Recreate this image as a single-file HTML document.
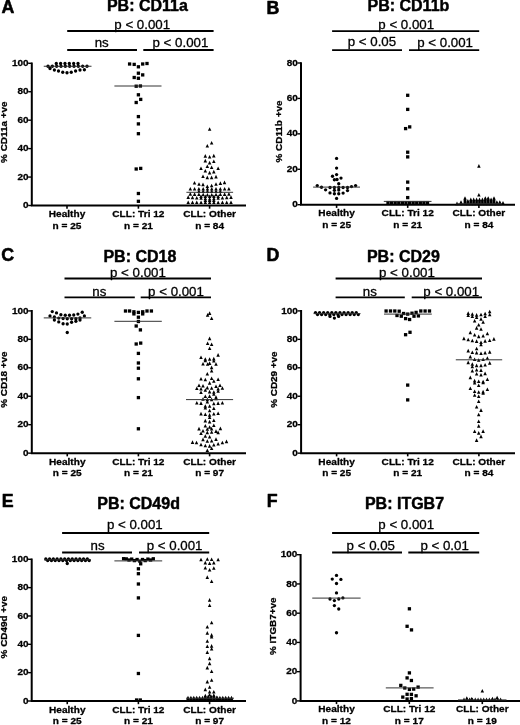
<!DOCTYPE html>
<html lang="en">
<head>
<meta charset="utf-8">
<title>Integrin expression in CLL</title>
<style>
html,body{margin:0;padding:0;background:#fff;}
body{width:520px;height:725px;overflow:hidden;}
svg{display:block;}
svg text{font-family:"Liberation Sans", Arial, sans-serif;fill:#000;stroke:#000;stroke-width:0.3px;stroke-linejoin:round;}
</style>
</head>
<body>
<svg width="520" height="725" viewBox="0 0 520 725">
<rect width="520" height="725" fill="#fff"/>
<g>
<text x="1.5" y="13.4" font-size="17.8" font-weight="bold" style="stroke-width:.55px">A</text>
<text x="147.4" y="11.4" font-size="16" font-weight="bold" text-anchor="middle" style="stroke-width:.45px">PB: CD11a</text>
<path d="M67.2 31H213.6" stroke="#000" stroke-width="1.8" fill="none"/>
<text transform="translate(142.2 29) scale(1 .97)" font-size="13.3" text-anchor="middle">p &lt; 0.001</text>
<path d="M67.2 50H137" stroke="#000" stroke-width="1.8" fill="none"/>
<text transform="translate(101.7 47) scale(1 .97)" font-size="13.3" text-anchor="middle">ns</text>
<path d="M143.3 50H213.6" stroke="#000" stroke-width="1.8" fill="none"/>
<text transform="translate(180.4 47) scale(1 .97)" font-size="13.3" text-anchor="middle">p &lt; 0.001</text>
<path d="M31.8 62.5V205.5H246" stroke="#000" stroke-width="2" fill="none" stroke-linejoin="miter"/>
<path d="M28.2 205.5H31.8" stroke="#000" stroke-width="1.4"/>
<text transform="translate(28.6 208.1) scale(1 .9)" font-size="10" font-weight="bold" text-anchor="end">0</text>
<path d="M28.2 177.06H31.8" stroke="#000" stroke-width="1.4"/>
<text transform="translate(28.6 179.66) scale(1 .9)" font-size="10" font-weight="bold" text-anchor="end">20</text>
<path d="M28.2 148.62H31.8" stroke="#000" stroke-width="1.4"/>
<text transform="translate(28.6 151.22) scale(1 .9)" font-size="10" font-weight="bold" text-anchor="end">40</text>
<path d="M28.2 120.18H31.8" stroke="#000" stroke-width="1.4"/>
<text transform="translate(28.6 122.78) scale(1 .9)" font-size="10" font-weight="bold" text-anchor="end">60</text>
<path d="M28.2 91.74H31.8" stroke="#000" stroke-width="1.4"/>
<text transform="translate(28.6 94.34) scale(1 .9)" font-size="10" font-weight="bold" text-anchor="end">80</text>
<path d="M28.2 63.3H31.8" stroke="#000" stroke-width="1.4"/>
<text transform="translate(28.6 65.9) scale(1 .9)" font-size="10" font-weight="bold" text-anchor="end">100</text>
<text transform="translate(7 132.25) rotate(-90) scale(1 .92)" font-size="9.9" font-weight="bold" text-anchor="middle">% CD11a +ve</text>
<path d="M67 205.5V208.7" stroke="#000" stroke-width="1.6"/>
<text transform="translate(67 217) scale(1 .94)" font-size="10.1" font-weight="bold" text-anchor="middle">Healthy</text>
<text transform="translate(67 228.7) scale(1 .94)" font-size="10.1" font-weight="bold" text-anchor="middle">n = 25</text>
<g fill="#000"><circle cx="56.3" cy="63.5" r="1.65"/><circle cx="60.64" cy="63.5" r="1.65"/><circle cx="64.98" cy="63.5" r="1.65"/><circle cx="69.32" cy="63.5" r="1.65"/><circle cx="73.66" cy="63.5" r="1.65"/><circle cx="78" cy="63.5" r="1.65"/><circle cx="48" cy="66.25" r="1.65"/><circle cx="52.33" cy="66.25" r="1.65"/><circle cx="56.67" cy="66.25" r="1.65"/><circle cx="61" cy="66.25" r="1.65"/><circle cx="65.33" cy="66.25" r="1.65"/><circle cx="69.67" cy="66.25" r="1.65"/><circle cx="74" cy="66.25" r="1.65"/><circle cx="78.33" cy="66.25" r="1.65"/><circle cx="82.67" cy="66.25" r="1.65"/><circle cx="87" cy="66.25" r="1.65"/><circle cx="50" cy="68.5" r="1.65"/><circle cx="54.4" cy="70" r="1.65"/><circle cx="58.5" cy="71" r="1.65"/><circle cx="62.75" cy="72.25" r="1.65"/><circle cx="67" cy="72.75" r="1.65"/><circle cx="71.25" cy="72.25" r="1.65"/><circle cx="75.6" cy="71" r="1.65"/><circle cx="80" cy="70" r="1.65"/><circle cx="84.4" cy="69.75" r="1.65"/></g>
<path d="M43.75 66.25H91.5" stroke="#333" stroke-width="1"/>
<path d="M138.4 205.5V208.7" stroke="#000" stroke-width="1.6"/>
<text transform="translate(138.4 217) scale(1 .94)" font-size="10.1" font-weight="bold" text-anchor="middle">CLL: Tri 12</text>
<text transform="translate(138.4 228.7) scale(1 .94)" font-size="10.1" font-weight="bold" text-anchor="middle">n = 21</text>
<g fill="#000"><rect x="127.95" y="62.35" width="3.3" height="3.3"/><rect x="132.55" y="62.75" width="3.3" height="3.3"/><rect x="136.75" y="65.15" width="3.3" height="3.3"/><rect x="141.05" y="62.35" width="3.3" height="3.3"/><rect x="145.35" y="61.85" width="3.3" height="3.3"/><rect x="136.75" y="71.55" width="3.3" height="3.3"/><rect x="141.05" y="73.25" width="3.3" height="3.3"/><rect x="132.55" y="75.85" width="3.3" height="3.3"/><rect x="136.75" y="76.65" width="3.3" height="3.3"/><rect x="134.55" y="84.55" width="3.3" height="3.3"/><rect x="138.75" y="84.35" width="3.3" height="3.3"/><rect x="136.75" y="93.15" width="3.3" height="3.3"/><rect x="139.05" y="97.75" width="3.3" height="3.3"/><rect x="134.55" y="100.85" width="3.3" height="3.3"/><rect x="136.75" y="114.95" width="3.3" height="3.3"/><rect x="136.75" y="122.25" width="3.3" height="3.3"/><rect x="136.75" y="132.05" width="3.3" height="3.3"/><rect x="134.55" y="167.35" width="3.3" height="3.3"/><rect x="139.05" y="166.75" width="3.3" height="3.3"/><rect x="136.75" y="191.85" width="3.3" height="3.3"/><rect x="136.75" y="199.65" width="3.3" height="3.3"/></g>
<path d="M114.4 86H161.5" stroke="#333" stroke-width="1"/>
<path d="M209.6 205.5V208.7" stroke="#000" stroke-width="1.6"/>
<text transform="translate(209.6 217) scale(1 .94)" font-size="10.1" font-weight="bold" text-anchor="middle">CLL: Other</text>
<text transform="translate(209.6 228.7) scale(1 .94)" font-size="10.1" font-weight="bold" text-anchor="middle">n = 84</text>
<g fill="#000"><path d="M209.6 127.2l1.75 3.6h-3.5z"/><path d="M211.6 140.9l1.75 3.6h-3.5z"/><path d="M207.3 144l1.75 3.6h-3.5z"/><path d="M205.3 154.1l1.75 3.6h-3.5z"/><path d="M209.6 155l1.75 3.6h-3.5z"/><path d="M213.8 153.8l1.75 3.6h-3.5z"/><path d="M205.3 158.8l1.75 3.6h-3.5z"/><path d="M209.6 160.8l1.75 3.6h-3.5z"/><path d="M213.8 159.5l1.75 3.6h-3.5z"/><path d="M201 166.5l1.75 3.6h-3.5z"/><path d="M207.3 164.4l1.75 3.6h-3.5z"/><path d="M211.6 165.4l1.75 3.6h-3.5z"/><path d="M218.1 166.5l1.75 3.6h-3.5z"/><path d="M205.3 168.9l1.75 3.6h-3.5z"/><path d="M209.6 170.8l1.75 3.6h-3.5z"/><path d="M213.8 169.8l1.75 3.6h-3.5z"/><path d="M203 174.5l1.75 3.6h-3.5z"/><path d="M207.3 175.6l1.75 3.6h-3.5z"/><path d="M211.6 175.6l1.75 3.6h-3.5z"/><path d="M216 174.8l1.75 3.6h-3.5z"/><path d="M194.5 180.9l1.75 3.6h-3.5z"/><path d="M199 182.2l1.75 3.6h-3.5z"/><path d="M203 182.6l1.75 3.6h-3.5z"/><path d="M207.3 184.4l1.75 3.6h-3.5z"/><path d="M211.6 183.7l1.75 3.6h-3.5z"/><path d="M216 182.2l1.75 3.6h-3.5z"/><path d="M220.4 181.3l1.75 3.6h-3.5z"/><path d="M224.5 180.6l1.75 3.6h-3.5z"/><path d="M190.3 186.9l1.75 3.6h-3.5z"/><path d="M194.59 186.9l1.75 3.6h-3.5z"/><path d="M198.88 186.9l1.75 3.6h-3.5z"/><path d="M203.17 186.9l1.75 3.6h-3.5z"/><path d="M207.46 186.9l1.75 3.6h-3.5z"/><path d="M211.74 186.9l1.75 3.6h-3.5z"/><path d="M216.03 186.9l1.75 3.6h-3.5z"/><path d="M220.32 186.9l1.75 3.6h-3.5z"/><path d="M224.61 186.9l1.75 3.6h-3.5z"/><path d="M228.9 186.9l1.75 3.6h-3.5z"/><path d="M198.9 189.3l1.75 3.6h-3.5z"/><path d="M203.18 189.3l1.75 3.6h-3.5z"/><path d="M207.46 189.3l1.75 3.6h-3.5z"/><path d="M211.74 189.3l1.75 3.6h-3.5z"/><path d="M216.02 189.3l1.75 3.6h-3.5z"/><path d="M220.3 189.3l1.75 3.6h-3.5z"/><path d="M190.3 192.1l1.75 3.6h-3.5z"/><path d="M194.59 192.3l1.75 3.6h-3.5z"/><path d="M198.88 192.5l1.75 3.6h-3.5z"/><path d="M203.17 192.7l1.75 3.6h-3.5z"/><path d="M207.46 192.9l1.75 3.6h-3.5z"/><path d="M211.74 192.9l1.75 3.6h-3.5z"/><path d="M216.03 192.7l1.75 3.6h-3.5z"/><path d="M220.32 192.5l1.75 3.6h-3.5z"/><path d="M224.61 192.3l1.75 3.6h-3.5z"/><path d="M228.9 192.1l1.75 3.6h-3.5z"/><path d="M201 194.5l1.75 3.6h-3.5z"/><path d="M205.3 194.5l1.75 3.6h-3.5z"/><path d="M209.6 194.5l1.75 3.6h-3.5z"/><path d="M213.9 194.5l1.75 3.6h-3.5z"/><path d="M218.2 194.5l1.75 3.6h-3.5z"/><path d="M188.2 195.3l1.75 3.6h-3.5z"/><path d="M192.48 195.62l1.75 3.6h-3.5z"/><path d="M196.76 195.94l1.75 3.6h-3.5z"/><path d="M201.04 196.26l1.75 3.6h-3.5z"/><path d="M205.32 196.58l1.75 3.6h-3.5z"/><path d="M209.6 196.9l1.75 3.6h-3.5z"/><path d="M213.88 196.58l1.75 3.6h-3.5z"/><path d="M218.16 196.26l1.75 3.6h-3.5z"/><path d="M222.44 195.94l1.75 3.6h-3.5z"/><path d="M226.72 195.62l1.75 3.6h-3.5z"/><path d="M231 195.3l1.75 3.6h-3.5z"/><path d="M205.4 198.4l1.75 3.6h-3.5z"/><path d="M209.6 198.4l1.75 3.6h-3.5z"/><path d="M213.8 198.4l1.75 3.6h-3.5z"/><path d="M188.2 200.4l1.75 3.6h-3.5z"/><path d="M192.48 200.4l1.75 3.6h-3.5z"/><path d="M196.76 200.4l1.75 3.6h-3.5z"/><path d="M201.04 200.4l1.75 3.6h-3.5z"/><path d="M205.32 200.4l1.75 3.6h-3.5z"/><path d="M209.6 200.4l1.75 3.6h-3.5z"/><path d="M213.88 200.4l1.75 3.6h-3.5z"/><path d="M218.16 200.4l1.75 3.6h-3.5z"/><path d="M222.44 200.4l1.75 3.6h-3.5z"/><path d="M226.72 200.4l1.75 3.6h-3.5z"/><path d="M231 200.4l1.75 3.6h-3.5z"/></g>
<path d="M186.4 192.3H233.1" stroke="#333" stroke-width="1"/>
</g>
<g>
<text x="266.6" y="13.5" font-size="17.8" font-weight="bold" style="stroke-width:.55px">B</text>
<text x="408.4" y="11.4" font-size="16" font-weight="bold" text-anchor="middle" style="stroke-width:.45px">PB: CD11b</text>
<path d="M332.1 31.2H479.2" stroke="#000" stroke-width="1.8" fill="none"/>
<text transform="translate(406.2 29.1) scale(1 .97)" font-size="13.3" text-anchor="middle">p &lt; 0.001</text>
<path d="M332.1 50.1H402" stroke="#000" stroke-width="1.8" fill="none"/>
<text transform="translate(371.9 46.4) scale(1 .97)" font-size="13.3" text-anchor="middle">p &lt; 0.05</text>
<path d="M409 50.1H479.2" stroke="#000" stroke-width="1.8" fill="none"/>
<text transform="translate(445.1 47) scale(1 .97)" font-size="13.3" text-anchor="middle">p &lt; 0.001</text>
<path d="M301 62.2V204.7H515" stroke="#000" stroke-width="2" fill="none" stroke-linejoin="miter"/>
<path d="M297.4 204.7H301" stroke="#000" stroke-width="1.4"/>
<text transform="translate(297.8 207.3) scale(1 .9)" font-size="10" font-weight="bold" text-anchor="end">0</text>
<path d="M297.4 169.27H301" stroke="#000" stroke-width="1.4"/>
<text transform="translate(297.8 171.87) scale(1 .9)" font-size="10" font-weight="bold" text-anchor="end">20</text>
<path d="M297.4 133.85H301" stroke="#000" stroke-width="1.4"/>
<text transform="translate(297.8 136.45) scale(1 .9)" font-size="10" font-weight="bold" text-anchor="end">40</text>
<path d="M297.4 98.42H301" stroke="#000" stroke-width="1.4"/>
<text transform="translate(297.8 101.02) scale(1 .9)" font-size="10" font-weight="bold" text-anchor="end">60</text>
<path d="M297.4 63H301" stroke="#000" stroke-width="1.4"/>
<text transform="translate(297.8 65.6) scale(1 .9)" font-size="10" font-weight="bold" text-anchor="end">80</text>
<text transform="translate(282.3 131.5) rotate(-90) scale(1 .92)" font-size="9.9" font-weight="bold" text-anchor="middle">% CD11b +ve</text>
<path d="M336.6 204.7V207.9" stroke="#000" stroke-width="1.6"/>
<text transform="translate(336.6 216.2) scale(1 .94)" font-size="10.1" font-weight="bold" text-anchor="middle">Healthy</text>
<text transform="translate(336.6 227.9) scale(1 .94)" font-size="10.1" font-weight="bold" text-anchor="middle">n = 25</text>
<g fill="#000"><circle cx="336.6" cy="158.4" r="1.65"/><circle cx="336.6" cy="168.1" r="1.65"/><circle cx="336.6" cy="174.6" r="1.65"/><circle cx="332.5" cy="176.25" r="1.65"/><circle cx="341" cy="178.1" r="1.65"/><circle cx="334.4" cy="179.75" r="1.65"/><circle cx="337" cy="179.5" r="1.65"/><circle cx="338.75" cy="183.75" r="1.65"/><circle cx="317.25" cy="185.6" r="1.65"/><circle cx="355.6" cy="185.6" r="1.65"/><circle cx="321.5" cy="187.25" r="1.65"/><circle cx="351.5" cy="186.6" r="1.65"/><circle cx="330" cy="187.5" r="1.65"/><circle cx="334.4" cy="187.5" r="1.65"/><circle cx="338.75" cy="187.5" r="1.65"/><circle cx="343.1" cy="187.5" r="1.65"/><circle cx="347.5" cy="187.5" r="1.65"/><circle cx="325.6" cy="189.8" r="1.65"/><circle cx="334.4" cy="190.3" r="1.65"/><circle cx="338.75" cy="190" r="1.65"/><circle cx="347.5" cy="190.6" r="1.65"/><circle cx="330" cy="192.9" r="1.65"/><circle cx="334.4" cy="193.75" r="1.65"/><circle cx="338.75" cy="193.75" r="1.65"/><circle cx="343.1" cy="193.1" r="1.65"/><circle cx="336.6" cy="198.4" r="1.65"/></g>
<path d="M313.1 187.1H360" stroke="#333" stroke-width="1"/>
<path d="M407.7 204.7V207.9" stroke="#000" stroke-width="1.6"/>
<text transform="translate(407.7 216.2) scale(1 .94)" font-size="10.1" font-weight="bold" text-anchor="middle">CLL: Tri 12</text>
<text transform="translate(407.7 227.9) scale(1 .94)" font-size="10.1" font-weight="bold" text-anchor="middle">n = 21</text>
<g fill="#000"><rect x="406.05" y="93.65" width="3.3" height="3.3"/><rect x="406.05" y="107.75" width="3.3" height="3.3"/><rect x="403.95" y="126.95" width="3.3" height="3.3"/><rect x="408.05" y="125.25" width="3.3" height="3.3"/><rect x="406.05" y="150.55" width="3.3" height="3.3"/><rect x="406.05" y="155.25" width="3.3" height="3.3"/><rect x="406.05" y="180.45" width="3.3" height="3.3"/><rect x="406.05" y="187.15" width="3.3" height="3.3"/><rect x="406.05" y="195.95" width="3.3" height="3.3"/><rect x="386.35" y="200.95" width="3.3" height="3.3"/><rect x="389.94" y="200.95" width="3.3" height="3.3"/><rect x="393.53" y="200.95" width="3.3" height="3.3"/><rect x="397.12" y="200.95" width="3.3" height="3.3"/><rect x="400.71" y="200.95" width="3.3" height="3.3"/><rect x="404.3" y="200.95" width="3.3" height="3.3"/><rect x="407.9" y="200.95" width="3.3" height="3.3"/><rect x="411.49" y="200.95" width="3.3" height="3.3"/><rect x="415.08" y="200.95" width="3.3" height="3.3"/><rect x="418.67" y="200.95" width="3.3" height="3.3"/><rect x="422.26" y="200.95" width="3.3" height="3.3"/><rect x="425.85" y="200.95" width="3.3" height="3.3"/></g>
<path d="M383.8 201.4H431.5" stroke="#333" stroke-width="1"/>
<path d="M478.9 204.7V207.9" stroke="#000" stroke-width="1.6"/>
<text transform="translate(478.9 216.2) scale(1 .94)" font-size="10.1" font-weight="bold" text-anchor="middle">CLL: Other</text>
<text transform="translate(478.9 227.9) scale(1 .94)" font-size="10.1" font-weight="bold" text-anchor="middle">n = 84</text>
<g fill="#000"><path d="M478.9 164.1l1.75 3.6h-3.5z"/><path d="M478.9 193l1.75 3.6h-3.5z"/><path d="M457 201.6l1.75 3.6h-3.5z"/><path d="M461 201.6l1.75 3.6h-3.5z"/><path d="M461 200.25l1.75 3.6h-3.5z"/><path d="M465 201.6l1.75 3.6h-3.5z"/><path d="M465 200.25l1.75 3.6h-3.5z"/><path d="M465 198.9l1.75 3.6h-3.5z"/><path d="M465 197.55l1.75 3.6h-3.5z"/><path d="M465 196.2l1.75 3.6h-3.5z"/><path d="M467.9 201.6l1.75 3.6h-3.5z"/><path d="M467.9 200.25l1.75 3.6h-3.5z"/><path d="M467.9 198.9l1.75 3.6h-3.5z"/><path d="M470.8 201.6l1.75 3.6h-3.5z"/><path d="M470.8 200.25l1.75 3.6h-3.5z"/><path d="M470.8 198.9l1.75 3.6h-3.5z"/><path d="M470.8 197.55l1.75 3.6h-3.5z"/><path d="M473.7 201.6l1.75 3.6h-3.5z"/><path d="M473.7 200.25l1.75 3.6h-3.5z"/><path d="M473.7 198.9l1.75 3.6h-3.5z"/><path d="M473.7 197.55l1.75 3.6h-3.5z"/><path d="M476.6 201.6l1.75 3.6h-3.5z"/><path d="M476.6 200.25l1.75 3.6h-3.5z"/><path d="M476.6 198.9l1.75 3.6h-3.5z"/><path d="M476.6 197.55l1.75 3.6h-3.5z"/><path d="M479.5 201.6l1.75 3.6h-3.5z"/><path d="M479.5 200.25l1.75 3.6h-3.5z"/><path d="M479.5 198.9l1.75 3.6h-3.5z"/><path d="M479.5 197.55l1.75 3.6h-3.5z"/><path d="M482.4 201.6l1.75 3.6h-3.5z"/><path d="M482.4 200.25l1.75 3.6h-3.5z"/><path d="M482.4 198.9l1.75 3.6h-3.5z"/><path d="M482.4 197.55l1.75 3.6h-3.5z"/><path d="M485.3 201.6l1.75 3.6h-3.5z"/><path d="M485.3 200.25l1.75 3.6h-3.5z"/><path d="M485.3 198.9l1.75 3.6h-3.5z"/><path d="M485.3 197.55l1.75 3.6h-3.5z"/><path d="M485.3 196.2l1.75 3.6h-3.5z"/><path d="M488.2 201.6l1.75 3.6h-3.5z"/><path d="M488.2 200.25l1.75 3.6h-3.5z"/><path d="M488.2 198.9l1.75 3.6h-3.5z"/><path d="M488.2 197.55l1.75 3.6h-3.5z"/><path d="M488.2 196.2l1.75 3.6h-3.5z"/><path d="M491.1 201.6l1.75 3.6h-3.5z"/><path d="M491.1 200.25l1.75 3.6h-3.5z"/><path d="M491.1 198.9l1.75 3.6h-3.5z"/><path d="M491.1 197.55l1.75 3.6h-3.5z"/><path d="M494 201.6l1.75 3.6h-3.5z"/><path d="M494 200.25l1.75 3.6h-3.5z"/><path d="M494 198.9l1.75 3.6h-3.5z"/><path d="M494 197.55l1.75 3.6h-3.5z"/><path d="M494 196.2l1.75 3.6h-3.5z"/><path d="M496.9 201.6l1.75 3.6h-3.5z"/><path d="M496.9 200.25l1.75 3.6h-3.5z"/><path d="M499.8 201.6l1.75 3.6h-3.5z"/><path d="M499.8 200.25l1.75 3.6h-3.5z"/><path d="M503 201l1.75 3.6h-3.5z"/></g>
<path d="M456 203.8H502" stroke="#333" stroke-width="1"/>
</g>
<g>
<text x="1.3" y="261.2" font-size="17.8" font-weight="bold" style="stroke-width:.55px">C</text>
<text x="139.9" y="261.5" font-size="16" font-weight="bold" text-anchor="middle" style="stroke-width:.45px">PB: CD18</text>
<path d="M64.5 278.5H211" stroke="#000" stroke-width="1.8" fill="none"/>
<text transform="translate(137.9 276.6) scale(1 .97)" font-size="13.3" text-anchor="middle">p &lt; 0.001</text>
<path d="M64.5 297.4H134.8" stroke="#000" stroke-width="1.8" fill="none"/>
<text transform="translate(99.3 296.1) scale(1 .97)" font-size="13.3" text-anchor="middle">ns</text>
<path d="M140.7 297.4H211" stroke="#000" stroke-width="1.8" fill="none"/>
<text transform="translate(176 296.1) scale(1 .97)" font-size="13.3" text-anchor="middle">p &lt; 0.001</text>
<path d="M31.8 310.1V453.15H246" stroke="#000" stroke-width="2" fill="none" stroke-linejoin="miter"/>
<path d="M28.2 453.15H31.8" stroke="#000" stroke-width="1.4"/>
<text transform="translate(28.6 455.75) scale(1 .9)" font-size="10" font-weight="bold" text-anchor="end">0</text>
<path d="M28.2 424.7H31.8" stroke="#000" stroke-width="1.4"/>
<text transform="translate(28.6 427.3) scale(1 .9)" font-size="10" font-weight="bold" text-anchor="end">20</text>
<path d="M28.2 396.25H31.8" stroke="#000" stroke-width="1.4"/>
<text transform="translate(28.6 398.85) scale(1 .9)" font-size="10" font-weight="bold" text-anchor="end">40</text>
<path d="M28.2 367.8H31.8" stroke="#000" stroke-width="1.4"/>
<text transform="translate(28.6 370.4) scale(1 .9)" font-size="10" font-weight="bold" text-anchor="end">60</text>
<path d="M28.2 339.35H31.8" stroke="#000" stroke-width="1.4"/>
<text transform="translate(28.6 341.95) scale(1 .9)" font-size="10" font-weight="bold" text-anchor="end">80</text>
<path d="M28.2 310.9H31.8" stroke="#000" stroke-width="1.4"/>
<text transform="translate(28.6 313.5) scale(1 .9)" font-size="10" font-weight="bold" text-anchor="end">100</text>
<text transform="translate(7 379.6) rotate(-90) scale(1 .92)" font-size="9.9" font-weight="bold" text-anchor="middle">% CD18 +ve</text>
<path d="M67.25 453.15V456.35" stroke="#000" stroke-width="1.6"/>
<text transform="translate(67.25 464.65) scale(1 .94)" font-size="10.1" font-weight="bold" text-anchor="middle">Healthy</text>
<text transform="translate(67.25 476.35) scale(1 .94)" font-size="10.1" font-weight="bold" text-anchor="middle">n = 25</text>
<g fill="#000"><circle cx="52.25" cy="311.6" r="1.65"/><circle cx="56.5" cy="312.9" r="1.65"/><circle cx="60.9" cy="314.75" r="1.65"/><circle cx="65.25" cy="315.25" r="1.65"/><circle cx="69.5" cy="315.25" r="1.65"/><circle cx="73.75" cy="315" r="1.65"/><circle cx="77.9" cy="314.1" r="1.65"/><circle cx="82.25" cy="312.25" r="1.65"/><circle cx="50" cy="315.9" r="1.65"/><circle cx="54.4" cy="316.9" r="1.65"/><circle cx="58.75" cy="318.1" r="1.65"/><circle cx="63.1" cy="318.5" r="1.65"/><circle cx="67.25" cy="318.75" r="1.65"/><circle cx="71.6" cy="318.75" r="1.65"/><circle cx="75.9" cy="318.75" r="1.65"/><circle cx="80" cy="317.9" r="1.65"/><circle cx="84.4" cy="315.9" r="1.65"/><circle cx="54.4" cy="320" r="1.65"/><circle cx="58.75" cy="321.9" r="1.65"/><circle cx="63.1" cy="323.75" r="1.65"/><circle cx="67.25" cy="324" r="1.65"/><circle cx="71.6" cy="322.25" r="1.65"/><circle cx="75.9" cy="321.25" r="1.65"/><circle cx="80" cy="320" r="1.65"/><circle cx="67.25" cy="332.5" r="1.65"/></g>
<path d="M43.75 317.9H91.25" stroke="#333" stroke-width="1"/>
<path d="M138.4 453.15V456.35" stroke="#000" stroke-width="1.6"/>
<text transform="translate(138.4 464.65) scale(1 .94)" font-size="10.1" font-weight="bold" text-anchor="middle">CLL: Tri 12</text>
<text transform="translate(138.4 476.35) scale(1 .94)" font-size="10.1" font-weight="bold" text-anchor="middle">n = 21</text>
<g fill="#000"><rect x="123.85" y="309.35" width="3.3" height="3.3"/><rect x="127.95" y="309.35" width="3.3" height="3.3"/><rect x="132.25" y="310.15" width="3.3" height="3.3"/><rect x="136.75" y="310.75" width="3.3" height="3.3"/><rect x="141.05" y="310.15" width="3.3" height="3.3"/><rect x="145.35" y="309.35" width="3.3" height="3.3"/><rect x="149.75" y="309.35" width="3.3" height="3.3"/><rect x="132.25" y="312.25" width="3.3" height="3.3"/><rect x="141.05" y="312.25" width="3.3" height="3.3"/><rect x="136.75" y="315.55" width="3.3" height="3.3"/><rect x="136.75" y="319.85" width="3.3" height="3.3"/><rect x="134.55" y="324.35" width="3.3" height="3.3"/><rect x="138.75" y="328.25" width="3.3" height="3.3"/><rect x="134.55" y="342.35" width="3.3" height="3.3"/><rect x="139.05" y="341.45" width="3.3" height="3.3"/><rect x="136.75" y="351.75" width="3.3" height="3.3"/><rect x="136.75" y="361.35" width="3.3" height="3.3"/><rect x="136.75" y="366.55" width="3.3" height="3.3"/><rect x="136.75" y="377.15" width="3.3" height="3.3"/><rect x="136.75" y="395.95" width="3.3" height="3.3"/><rect x="136.75" y="427.15" width="3.3" height="3.3"/></g>
<path d="M114.4 321.3H161.8" stroke="#333" stroke-width="1"/>
<path d="M209.6 453.15V456.35" stroke="#000" stroke-width="1.6"/>
<text transform="translate(209.6 464.65) scale(1 .94)" font-size="10.1" font-weight="bold" text-anchor="middle">CLL: Other</text>
<text transform="translate(209.6 476.35) scale(1 .94)" font-size="10.1" font-weight="bold" text-anchor="middle">n = 97</text>
<g fill="#000"><path d="M209.6 311.3l1.75 3.6h-3.5z"/><path d="M207.6 313.1l1.75 3.6h-3.5z"/><path d="M211.6 316.5l1.75 3.6h-3.5z"/><path d="M209.6 336.6l1.75 3.6h-3.5z"/><path d="M207.6 341.4l1.75 3.6h-3.5z"/><path d="M211.6 342.4l1.75 3.6h-3.5z"/><path d="M209.6 346.5l1.75 3.6h-3.5z"/><path d="M218.1 353.1l1.75 3.6h-3.5z"/><path d="M201 355.5l1.75 3.6h-3.5z"/><path d="M205.3 357.2l1.75 3.6h-3.5z"/><path d="M209.6 357.2l1.75 3.6h-3.5z"/><path d="M213.8 356.8l1.75 3.6h-3.5z"/><path d="M213.8 358.9l1.75 3.6h-3.5z"/><path d="M205.3 358.6l1.75 3.6h-3.5z"/><path d="M203 362l1.75 3.6h-3.5z"/><path d="M207.6 362.2l1.75 3.6h-3.5z"/><path d="M209.6 361.3l1.75 3.6h-3.5z"/><path d="M216 362.2l1.75 3.6h-3.5z"/><path d="M211.6 365.6l1.75 3.6h-3.5z"/><path d="M211.6 369l1.75 3.6h-3.5z"/><path d="M207.3 372l1.75 3.6h-3.5z"/><path d="M201 377l1.75 3.6h-3.5z"/><path d="M205.3 377.7l1.75 3.6h-3.5z"/><path d="M211.6 376.4l1.75 3.6h-3.5z"/><path d="M218.1 377.4l1.75 3.6h-3.5z"/><path d="M213.8 379.2l1.75 3.6h-3.5z"/><path d="M209.6 381.1l1.75 3.6h-3.5z"/><path d="M199 383.5l1.75 3.6h-3.5z"/><path d="M203 384l1.75 3.6h-3.5z"/><path d="M220 383.5l1.75 3.6h-3.5z"/><path d="M216 384.4l1.75 3.6h-3.5z"/><path d="M196.8 386.5l1.75 3.6h-3.5z"/><path d="M201 386.9l1.75 3.6h-3.5z"/><path d="M207.3 385.8l1.75 3.6h-3.5z"/><path d="M211.6 386.2l1.75 3.6h-3.5z"/><path d="M218.1 386.9l1.75 3.6h-3.5z"/><path d="M222.4 386.2l1.75 3.6h-3.5z"/><path d="M201 390.5l1.75 3.6h-3.5z"/><path d="M205.3 388.2l1.75 3.6h-3.5z"/><path d="M209.6 389.8l1.75 3.6h-3.5z"/><path d="M213.8 390.2l1.75 3.6h-3.5z"/><path d="M218.1 389.2l1.75 3.6h-3.5z"/><path d="M213.8 392.2l1.75 3.6h-3.5z"/><path d="M205.3 394.5l1.75 3.6h-3.5z"/><path d="M209.6 394.3l1.75 3.6h-3.5z"/><path d="M216 395.2l1.75 3.6h-3.5z"/><path d="M203 397.2l1.75 3.6h-3.5z"/><path d="M207.3 397.6l1.75 3.6h-3.5z"/><path d="M211.6 397.6l1.75 3.6h-3.5z"/><path d="M216 396.6l1.75 3.6h-3.5z"/><path d="M196.8 401l1.75 3.6h-3.5z"/><path d="M201 401.3l1.75 3.6h-3.5z"/><path d="M207.3 399.9l1.75 3.6h-3.5z"/><path d="M213.8 401.7l1.75 3.6h-3.5z"/><path d="M218.1 401.3l1.75 3.6h-3.5z"/><path d="M222.4 401l1.75 3.6h-3.5z"/><path d="M205.3 404.2l1.75 3.6h-3.5z"/><path d="M205.3 406l1.75 3.6h-3.5z"/><path d="M209.6 404.2l1.75 3.6h-3.5z"/><path d="M213.8 406.4l1.75 3.6h-3.5z"/><path d="M209.6 408.7l1.75 3.6h-3.5z"/><path d="M201 411.8l1.75 3.6h-3.5z"/><path d="M205.3 412.4l1.75 3.6h-3.5z"/><path d="M209.6 413.1l1.75 3.6h-3.5z"/><path d="M213.8 412l1.75 3.6h-3.5z"/><path d="M218.1 411.4l1.75 3.6h-3.5z"/><path d="M209.6 415.4l1.75 3.6h-3.5z"/><path d="M205.3 418.8l1.75 3.6h-3.5z"/><path d="M209.6 419.8l1.75 3.6h-3.5z"/><path d="M213.8 418.5l1.75 3.6h-3.5z"/><path d="M205.3 423.9l1.75 3.6h-3.5z"/><path d="M209.6 425.2l1.75 3.6h-3.5z"/><path d="M213.8 423.5l1.75 3.6h-3.5z"/><path d="M199 426.8l1.75 3.6h-3.5z"/><path d="M207.3 427.2l1.75 3.6h-3.5z"/><path d="M211.6 426.8l1.75 3.6h-3.5z"/><path d="M220.4 426.6l1.75 3.6h-3.5z"/><path d="M203 428.9l1.75 3.6h-3.5z"/><path d="M201 431.5l1.75 3.6h-3.5z"/><path d="M207.3 430.6l1.75 3.6h-3.5z"/><path d="M211.6 430.2l1.75 3.6h-3.5z"/><path d="M216 429.3l1.75 3.6h-3.5z"/><path d="M218.1 430.6l1.75 3.6h-3.5z"/><path d="M205.3 434.2l1.75 3.6h-3.5z"/><path d="M209.6 434.9l1.75 3.6h-3.5z"/><path d="M203 437.6l1.75 3.6h-3.5z"/><path d="M211.6 439l1.75 3.6h-3.5z"/><path d="M207.3 439.2l1.75 3.6h-3.5z"/><path d="M216 437.3l1.75 3.6h-3.5z"/><path d="M192.5 440.3l1.75 3.6h-3.5z"/><path d="M196.5 440.7l1.75 3.6h-3.5z"/><path d="M222.4 440.7l1.75 3.6h-3.5z"/><path d="M226.5 439.6l1.75 3.6h-3.5z"/><path d="M201 442.7l1.75 3.6h-3.5z"/><path d="M205.3 443.7l1.75 3.6h-3.5z"/><path d="M209.6 444.1l1.75 3.6h-3.5z"/><path d="M213.8 443l1.75 3.6h-3.5z"/><path d="M218.1 442l1.75 3.6h-3.5z"/><path d="M211.6 446.4l1.75 3.6h-3.5z"/><path d="M207.3 448.4l1.75 3.6h-3.5z"/></g>
<path d="M186 399.6H233.1" stroke="#333" stroke-width="1"/>
</g>
<g>
<text x="266.6" y="261.2" font-size="17.8" font-weight="bold" style="stroke-width:.55px">D</text>
<text x="403.4" y="261.5" font-size="16" font-weight="bold" text-anchor="middle" style="stroke-width:.45px">PB: CD29</text>
<path d="M335.6 278.5H482" stroke="#000" stroke-width="1.8" fill="none"/>
<text transform="translate(406.9 276.6) scale(1 .97)" font-size="13.3" text-anchor="middle">p &lt; 0.001</text>
<path d="M335.6 297.4H404.8" stroke="#000" stroke-width="1.8" fill="none"/>
<text transform="translate(369.8 296.1) scale(1 .97)" font-size="13.3" text-anchor="middle">ns</text>
<path d="M411.7 297.4H482" stroke="#000" stroke-width="1.8" fill="none"/>
<text transform="translate(451.2 296.1) scale(1 .97)" font-size="13.3" text-anchor="middle">p &lt; 0.001</text>
<path d="M301.1 310.1V453.15H515" stroke="#000" stroke-width="2" fill="none" stroke-linejoin="miter"/>
<path d="M297.5 453.15H301.1" stroke="#000" stroke-width="1.4"/>
<text transform="translate(297.9 455.75) scale(1 .9)" font-size="10" font-weight="bold" text-anchor="end">0</text>
<path d="M297.5 424.7H301.1" stroke="#000" stroke-width="1.4"/>
<text transform="translate(297.9 427.3) scale(1 .9)" font-size="10" font-weight="bold" text-anchor="end">20</text>
<path d="M297.5 396.25H301.1" stroke="#000" stroke-width="1.4"/>
<text transform="translate(297.9 398.85) scale(1 .9)" font-size="10" font-weight="bold" text-anchor="end">40</text>
<path d="M297.5 367.8H301.1" stroke="#000" stroke-width="1.4"/>
<text transform="translate(297.9 370.4) scale(1 .9)" font-size="10" font-weight="bold" text-anchor="end">60</text>
<path d="M297.5 339.35H301.1" stroke="#000" stroke-width="1.4"/>
<text transform="translate(297.9 341.95) scale(1 .9)" font-size="10" font-weight="bold" text-anchor="end">80</text>
<path d="M297.5 310.9H301.1" stroke="#000" stroke-width="1.4"/>
<text transform="translate(297.9 313.5) scale(1 .9)" font-size="10" font-weight="bold" text-anchor="end">100</text>
<text transform="translate(276.7 379.6) rotate(-90) scale(1 .92)" font-size="9.9" font-weight="bold" text-anchor="middle">% CD29 +ve</text>
<path d="M336.6 453.15V456.35" stroke="#000" stroke-width="1.6"/>
<text transform="translate(336.6 464.65) scale(1 .94)" font-size="10.1" font-weight="bold" text-anchor="middle">Healthy</text>
<text transform="translate(336.6 476.35) scale(1 .94)" font-size="10.1" font-weight="bold" text-anchor="middle">n = 25</text>
<g fill="#000"><circle cx="315.5" cy="312.6" r="1.65"/><circle cx="317.54" cy="314.6" r="1.65"/><circle cx="319.58" cy="312.6" r="1.65"/><circle cx="321.61" cy="314.6" r="1.65"/><circle cx="323.65" cy="312.6" r="1.65"/><circle cx="325.69" cy="314.6" r="1.65"/><circle cx="327.73" cy="312.6" r="1.65"/><circle cx="329.77" cy="314.6" r="1.65"/><circle cx="331.8" cy="312.6" r="1.65"/><circle cx="333.84" cy="314.6" r="1.65"/><circle cx="335.88" cy="312.6" r="1.65"/><circle cx="337.92" cy="314.6" r="1.65"/><circle cx="339.96" cy="312.6" r="1.65"/><circle cx="342" cy="314.6" r="1.65"/><circle cx="344.03" cy="312.6" r="1.65"/><circle cx="346.07" cy="314.6" r="1.65"/><circle cx="348.11" cy="312.6" r="1.65"/><circle cx="350.15" cy="314.6" r="1.65"/><circle cx="352.19" cy="312.6" r="1.65"/><circle cx="354.22" cy="314.6" r="1.65"/><circle cx="356.26" cy="312.6" r="1.65"/><circle cx="358.3" cy="314.6" r="1.65"/><circle cx="330" cy="316.4" r="1.65"/><circle cx="338.6" cy="316.4" r="1.65"/><circle cx="334.4" cy="318.1" r="1.65"/></g>
<path d="M313.5 313.6H360.5" stroke="#333" stroke-width="1"/>
<path d="M407.7 453.15V456.35" stroke="#000" stroke-width="1.6"/>
<text transform="translate(407.7 464.65) scale(1 .94)" font-size="10.1" font-weight="bold" text-anchor="middle">CLL: Tri 12</text>
<text transform="translate(407.7 476.35) scale(1 .94)" font-size="10.1" font-weight="bold" text-anchor="middle">n = 21</text>
<g fill="#000"><rect x="384.45" y="309.35" width="3.3" height="3.3"/><rect x="388.85" y="309.35" width="3.3" height="3.3"/><rect x="393.15" y="309.35" width="3.3" height="3.3"/><rect x="397.55" y="309.55" width="3.3" height="3.3"/><rect x="419.15" y="309.35" width="3.3" height="3.3"/><rect x="423.45" y="309.35" width="3.3" height="3.3"/><rect x="427.85" y="309.35" width="3.3" height="3.3"/><rect x="395.35" y="313.85" width="3.3" height="3.3"/><rect x="399.65" y="314.55" width="3.3" height="3.3"/><rect x="401.95" y="311.85" width="3.3" height="3.3"/><rect x="403.95" y="316.95" width="3.3" height="3.3"/><rect x="406.05" y="312.45" width="3.3" height="3.3"/><rect x="407.95" y="317.85" width="3.3" height="3.3"/><rect x="410.35" y="311.55" width="3.3" height="3.3"/><rect x="412.35" y="314.55" width="3.3" height="3.3"/><rect x="414.45" y="310.75" width="3.3" height="3.3"/><rect x="416.75" y="314.25" width="3.3" height="3.3"/><rect x="403.95" y="333.05" width="3.3" height="3.3"/><rect x="408.35" y="330.65" width="3.3" height="3.3"/><rect x="406.05" y="383.45" width="3.3" height="3.3"/><rect x="406.05" y="398.25" width="3.3" height="3.3"/></g>
<path d="M384 314.1H431.8" stroke="#333" stroke-width="1"/>
<path d="M478.9 453.15V456.35" stroke="#000" stroke-width="1.6"/>
<text transform="translate(478.9 464.65) scale(1 .94)" font-size="10.1" font-weight="bold" text-anchor="middle">CLL: Other</text>
<text transform="translate(478.9 476.35) scale(1 .94)" font-size="10.1" font-weight="bold" text-anchor="middle">n = 84</text>
<g fill="#000"><path d="M468.2 311.3l1.75 3.6h-3.5z"/><path d="M468.2 313.5l1.75 3.6h-3.5z"/><path d="M472.3 312.2l1.75 3.6h-3.5z"/><path d="M472.3 314.4l1.75 3.6h-3.5z"/><path d="M476.6 313.1l1.75 3.6h-3.5z"/><path d="M476.6 315.4l1.75 3.6h-3.5z"/><path d="M481 312.7l1.75 3.6h-3.5z"/><path d="M481 317.1l1.75 3.6h-3.5z"/><path d="M485.1 311.7l1.75 3.6h-3.5z"/><path d="M485.1 314.4l1.75 3.6h-3.5z"/><path d="M489.7 309.7l1.75 3.6h-3.5z"/><path d="M489.7 312.7l1.75 3.6h-3.5z"/><path d="M474.6 318.9l1.75 3.6h-3.5z"/><path d="M483.1 320.2l1.75 3.6h-3.5z"/><path d="M478.7 322.9l1.75 3.6h-3.5z"/><path d="M476.6 326.1l1.75 3.6h-3.5z"/><path d="M481 327.2l1.75 3.6h-3.5z"/><path d="M470.3 330.6l1.75 3.6h-3.5z"/><path d="M474.6 332.9l1.75 3.6h-3.5z"/><path d="M478.7 334.6l1.75 3.6h-3.5z"/><path d="M483.1 334l1.75 3.6h-3.5z"/><path d="M487.4 331.7l1.75 3.6h-3.5z"/><path d="M463.9 336.6l1.75 3.6h-3.5z"/><path d="M468.2 337.7l1.75 3.6h-3.5z"/><path d="M472.3 338.7l1.75 3.6h-3.5z"/><path d="M476.6 339.3l1.75 3.6h-3.5z"/><path d="M481 340.4l1.75 3.6h-3.5z"/><path d="M485.1 339.1l1.75 3.6h-3.5z"/><path d="M489.7 338.4l1.75 3.6h-3.5z"/><path d="M493.9 337.1l1.75 3.6h-3.5z"/><path d="M481 342.7l1.75 3.6h-3.5z"/><path d="M476.6 346.7l1.75 3.6h-3.5z"/><path d="M468.2 348.8l1.75 3.6h-3.5z"/><path d="M472.3 350.5l1.75 3.6h-3.5z"/><path d="M476.6 350.8l1.75 3.6h-3.5z"/><path d="M481 351.5l1.75 3.6h-3.5z"/><path d="M485.1 350.8l1.75 3.6h-3.5z"/><path d="M489.7 350.1l1.75 3.6h-3.5z"/><path d="M470.3 354.8l1.75 3.6h-3.5z"/><path d="M474.6 357.5l1.75 3.6h-3.5z"/><path d="M478.7 358.2l1.75 3.6h-3.5z"/><path d="M483.1 357.5l1.75 3.6h-3.5z"/><path d="M487.4 356.2l1.75 3.6h-3.5z"/><path d="M468.2 360.6l1.75 3.6h-3.5z"/><path d="M472.3 362.2l1.75 3.6h-3.5z"/><path d="M476.6 363.6l1.75 3.6h-3.5z"/><path d="M481 363.6l1.75 3.6h-3.5z"/><path d="M485.1 362.9l1.75 3.6h-3.5z"/><path d="M489.7 361.1l1.75 3.6h-3.5z"/><path d="M472.3 364.6l1.75 3.6h-3.5z"/><path d="M472.3 369l1.75 3.6h-3.5z"/><path d="M476.6 368l1.75 3.6h-3.5z"/><path d="M481 368.3l1.75 3.6h-3.5z"/><path d="M476.6 372l1.75 3.6h-3.5z"/><path d="M481 373l1.75 3.6h-3.5z"/><path d="M485.1 371.6l1.75 3.6h-3.5z"/><path d="M470.3 375.6l1.75 3.6h-3.5z"/><path d="M474.6 378.8l1.75 3.6h-3.5z"/><path d="M478.7 379.5l1.75 3.6h-3.5z"/><path d="M483.1 379.7l1.75 3.6h-3.5z"/><path d="M487.4 377.5l1.75 3.6h-3.5z"/><path d="M474.6 380.9l1.75 3.6h-3.5z"/><path d="M483.1 380.7l1.75 3.6h-3.5z"/><path d="M478.7 383.5l1.75 3.6h-3.5z"/><path d="M470.3 386.5l1.75 3.6h-3.5z"/><path d="M487.4 387.5l1.75 3.6h-3.5z"/><path d="M474.6 389.4l1.75 3.6h-3.5z"/><path d="M478.7 390.2l1.75 3.6h-3.5z"/><path d="M483.1 389.8l1.75 3.6h-3.5z"/><path d="M483.1 391.2l1.75 3.6h-3.5z"/><path d="M474.6 393.2l1.75 3.6h-3.5z"/><path d="M478.7 394.5l1.75 3.6h-3.5z"/><path d="M478.7 399.5l1.75 3.6h-3.5z"/><path d="M476.6 404.9l1.75 3.6h-3.5z"/><path d="M481 408.3l1.75 3.6h-3.5z"/><path d="M478.7 412.7l1.75 3.6h-3.5z"/><path d="M478.7 419.4l1.75 3.6h-3.5z"/><path d="M478.7 424.1l1.75 3.6h-3.5z"/><path d="M474.6 429.5l1.75 3.6h-3.5z"/><path d="M478.7 431.1l1.75 3.6h-3.5z"/><path d="M483.1 429.3l1.75 3.6h-3.5z"/><path d="M481 434.6l1.75 3.6h-3.5z"/><path d="M476.6 438.3l1.75 3.6h-3.5z"/></g>
<path d="M455.8 359.8H502.2" stroke="#333" stroke-width="1"/>
</g>
<g>
<text x="1.8" y="507.3" font-size="17.8" font-weight="bold" style="stroke-width:.55px">E</text>
<text x="138.6" y="508.9" font-size="16" font-weight="bold" text-anchor="middle" style="stroke-width:.45px">PB: CD49d</text>
<path d="M62.1 533H209.2" stroke="#000" stroke-width="1.8" fill="none"/>
<text transform="translate(134.8 528.6) scale(1 .97)" font-size="13.3" text-anchor="middle">p &lt; 0.001</text>
<path d="M62.1 552.5H132" stroke="#000" stroke-width="1.8" fill="none"/>
<text transform="translate(97.6 550.2) scale(1 .97)" font-size="13.3" text-anchor="middle">ns</text>
<path d="M139 552.5H209.2" stroke="#000" stroke-width="1.8" fill="none"/>
<text transform="translate(174.6 550.2) scale(1 .97)" font-size="13.3" text-anchor="middle">p &lt; 0.001</text>
<path d="M31.7 558.5V701H246" stroke="#000" stroke-width="2" fill="none" stroke-linejoin="miter"/>
<path d="M28.1 701H31.7" stroke="#000" stroke-width="1.4"/>
<text transform="translate(28.5 703.6) scale(1 .9)" font-size="10" font-weight="bold" text-anchor="end">0</text>
<path d="M28.1 672.66H31.7" stroke="#000" stroke-width="1.4"/>
<text transform="translate(28.5 675.26) scale(1 .9)" font-size="10" font-weight="bold" text-anchor="end">20</text>
<path d="M28.1 644.32H31.7" stroke="#000" stroke-width="1.4"/>
<text transform="translate(28.5 646.92) scale(1 .9)" font-size="10" font-weight="bold" text-anchor="end">40</text>
<path d="M28.1 615.98H31.7" stroke="#000" stroke-width="1.4"/>
<text transform="translate(28.5 618.58) scale(1 .9)" font-size="10" font-weight="bold" text-anchor="end">60</text>
<path d="M28.1 587.64H31.7" stroke="#000" stroke-width="1.4"/>
<text transform="translate(28.5 590.24) scale(1 .9)" font-size="10" font-weight="bold" text-anchor="end">80</text>
<path d="M28.1 559.3H31.7" stroke="#000" stroke-width="1.4"/>
<text transform="translate(28.5 561.9) scale(1 .9)" font-size="10" font-weight="bold" text-anchor="end">100</text>
<text transform="translate(7 627.2) rotate(-90) scale(1 .92)" font-size="9.9" font-weight="bold" text-anchor="middle">% CD49d +ve</text>
<path d="M67.25 701V704.2" stroke="#000" stroke-width="1.6"/>
<text transform="translate(67.25 712.5) scale(1 .94)" font-size="10.1" font-weight="bold" text-anchor="middle">Healthy</text>
<text transform="translate(67.25 724.2) scale(1 .94)" font-size="10.1" font-weight="bold" text-anchor="middle">n = 25</text>
<g fill="#000"><circle cx="45.8" cy="559" r="1.65"/><circle cx="47.69" cy="560.5" r="1.65"/><circle cx="49.57" cy="559" r="1.65"/><circle cx="51.46" cy="560.5" r="1.65"/><circle cx="53.35" cy="559" r="1.65"/><circle cx="55.23" cy="560.5" r="1.65"/><circle cx="57.12" cy="559" r="1.65"/><circle cx="59.01" cy="560.5" r="1.65"/><circle cx="60.9" cy="559" r="1.65"/><circle cx="62.78" cy="560.5" r="1.65"/><circle cx="64.67" cy="559" r="1.65"/><circle cx="66.56" cy="560.5" r="1.65"/><circle cx="68.44" cy="559" r="1.65"/><circle cx="70.33" cy="560.5" r="1.65"/><circle cx="72.22" cy="559" r="1.65"/><circle cx="74.1" cy="560.5" r="1.65"/><circle cx="75.99" cy="559" r="1.65"/><circle cx="77.88" cy="560.5" r="1.65"/><circle cx="79.77" cy="559" r="1.65"/><circle cx="81.65" cy="560.5" r="1.65"/><circle cx="83.54" cy="559" r="1.65"/><circle cx="85.43" cy="560.5" r="1.65"/><circle cx="87.31" cy="559" r="1.65"/><circle cx="89.2" cy="560.5" r="1.65"/><circle cx="67.25" cy="563.5" r="1.65"/></g>
<path d="M44 559.8H91" stroke="#333" stroke-width="1"/>
<path d="M138.4 701V704.2" stroke="#000" stroke-width="1.6"/>
<text transform="translate(138.4 712.5) scale(1 .94)" font-size="10.1" font-weight="bold" text-anchor="middle">CLL: Tri 12</text>
<text transform="translate(138.4 724.2) scale(1 .94)" font-size="10.1" font-weight="bold" text-anchor="middle">n = 21</text>
<g fill="#000"><rect x="121.95" y="557.05" width="3.3" height="3.3"/><rect x="124.65" y="557.25" width="3.3" height="3.3"/><rect x="127.35" y="558.35" width="3.3" height="3.3"/><rect x="130.05" y="557.45" width="3.3" height="3.3"/><rect x="132.75" y="558.95" width="3.3" height="3.3"/><rect x="135.45" y="557.85" width="3.3" height="3.3"/><rect x="138.15" y="559.45" width="3.3" height="3.3"/><rect x="140.85" y="557.85" width="3.3" height="3.3"/><rect x="143.55" y="558.95" width="3.3" height="3.3"/><rect x="146.25" y="557.45" width="3.3" height="3.3"/><rect x="148.95" y="558.35" width="3.3" height="3.3"/><rect x="151.65" y="557.15" width="3.3" height="3.3"/><rect x="139.05" y="562.15" width="3.3" height="3.3"/><rect x="136.75" y="567.15" width="3.3" height="3.3"/><rect x="136.75" y="572.05" width="3.3" height="3.3"/><rect x="136.75" y="582.35" width="3.3" height="3.3"/><rect x="136.75" y="596.25" width="3.3" height="3.3"/><rect x="136.75" y="633.75" width="3.3" height="3.3"/><rect x="136.75" y="671.85" width="3.3" height="3.3"/><rect x="134.95" y="698.35" width="3.3" height="3.3"/><rect x="138.65" y="698.35" width="3.3" height="3.3"/></g>
<path d="M114.4 560.9H162.2" stroke="#333" stroke-width="1"/>
<path d="M209.6 701V704.2" stroke="#000" stroke-width="1.6"/>
<text transform="translate(209.6 712.5) scale(1 .94)" font-size="10.1" font-weight="bold" text-anchor="middle">CLL: Other</text>
<text transform="translate(209.6 724.2) scale(1 .94)" font-size="10.1" font-weight="bold" text-anchor="middle">n = 97</text>
<g fill="#000"><path d="M201 557.7l1.75 3.6h-3.5z"/><path d="M207.3 557.2l1.75 3.6h-3.5z"/><path d="M211.6 557.4l1.75 3.6h-3.5z"/><path d="M218.1 557.7l1.75 3.6h-3.5z"/><path d="M205.3 560.8l1.75 3.6h-3.5z"/><path d="M209.6 561.5l1.75 3.6h-3.5z"/><path d="M213.8 560.8l1.75 3.6h-3.5z"/><path d="M205.3 565.9l1.75 3.6h-3.5z"/><path d="M209.6 567.9l1.75 3.6h-3.5z"/><path d="M213.8 566.2l1.75 3.6h-3.5z"/><path d="M207.3 575.3l1.75 3.6h-3.5z"/><path d="M211.6 579.4l1.75 3.6h-3.5z"/><path d="M209.6 598.1l1.75 3.6h-3.5z"/><path d="M209.6 603.5l1.75 3.6h-3.5z"/><path d="M211.6 620.7l1.75 3.6h-3.5z"/><path d="M207.3 625l1.75 3.6h-3.5z"/><path d="M207.3 631.1l1.75 3.6h-3.5z"/><path d="M211.6 633.1l1.75 3.6h-3.5z"/><path d="M211.6 634.8l1.75 3.6h-3.5z"/><path d="M207.3 639.2l1.75 3.6h-3.5z"/><path d="M207.3 644.5l1.75 3.6h-3.5z"/><path d="M211.6 644.1l1.75 3.6h-3.5z"/><path d="M211.6 647l1.75 3.6h-3.5z"/><path d="M207.3 650.3l1.75 3.6h-3.5z"/><path d="M209.6 656.6l1.75 3.6h-3.5z"/><path d="M209.6 661.6l1.75 3.6h-3.5z"/><path d="M207.3 665.8l1.75 3.6h-3.5z"/><path d="M211.6 669.4l1.75 3.6h-3.5z"/><path d="M211.6 678.2l1.75 3.6h-3.5z"/><path d="M207.3 679.8l1.75 3.6h-3.5z"/><path d="M209.6 685.2l1.75 3.6h-3.5z"/><path d="M205.3 687.6l1.75 3.6h-3.5z"/><path d="M209.6 689.9l1.75 3.6h-3.5z"/><path d="M213.8 689.9l1.75 3.6h-3.5z"/><path d="M205.3 693.7l1.75 3.6h-3.5z"/><path d="M209.6 693l1.75 3.6h-3.5z"/><path d="M213.8 693.3l1.75 3.6h-3.5z"/><path d="M188 695.8l1.75 3.6h-3.5z"/><path d="M190.9 695.8l1.75 3.6h-3.5z"/><path d="M193.8 695.8l1.75 3.6h-3.5z"/><path d="M196.7 695.8l1.75 3.6h-3.5z"/><path d="M199.6 695.8l1.75 3.6h-3.5z"/><path d="M202.5 695.8l1.75 3.6h-3.5z"/><path d="M205.4 695.8l1.75 3.6h-3.5z"/><path d="M208.3 695.8l1.75 3.6h-3.5z"/><path d="M211.2 695.8l1.75 3.6h-3.5z"/><path d="M214.1 695.8l1.75 3.6h-3.5z"/><path d="M217 695.8l1.75 3.6h-3.5z"/><path d="M219.9 695.8l1.75 3.6h-3.5z"/><path d="M222.8 695.8l1.75 3.6h-3.5z"/><path d="M225.7 695.8l1.75 3.6h-3.5z"/><path d="M228.6 695.8l1.75 3.6h-3.5z"/><path d="M231.5 695.8l1.75 3.6h-3.5z"/><path d="M188 696.7l1.75 3.6h-3.5z"/><path d="M190.9 696.7l1.75 3.6h-3.5z"/><path d="M193.8 696.7l1.75 3.6h-3.5z"/><path d="M196.7 696.7l1.75 3.6h-3.5z"/><path d="M199.6 696.7l1.75 3.6h-3.5z"/><path d="M202.5 696.7l1.75 3.6h-3.5z"/><path d="M205.4 696.7l1.75 3.6h-3.5z"/><path d="M208.3 696.7l1.75 3.6h-3.5z"/><path d="M211.2 696.7l1.75 3.6h-3.5z"/><path d="M214.1 696.7l1.75 3.6h-3.5z"/><path d="M217 696.7l1.75 3.6h-3.5z"/><path d="M219.9 696.7l1.75 3.6h-3.5z"/><path d="M222.8 696.7l1.75 3.6h-3.5z"/><path d="M225.7 696.7l1.75 3.6h-3.5z"/><path d="M228.6 696.7l1.75 3.6h-3.5z"/><path d="M231.5 696.7l1.75 3.6h-3.5z"/><path d="M188 697.6l1.75 3.6h-3.5z"/><path d="M190.9 697.6l1.75 3.6h-3.5z"/><path d="M193.8 697.6l1.75 3.6h-3.5z"/><path d="M196.7 697.6l1.75 3.6h-3.5z"/><path d="M199.6 697.6l1.75 3.6h-3.5z"/><path d="M202.5 697.6l1.75 3.6h-3.5z"/><path d="M205.4 697.6l1.75 3.6h-3.5z"/><path d="M208.3 697.6l1.75 3.6h-3.5z"/><path d="M211.2 697.6l1.75 3.6h-3.5z"/><path d="M214.1 697.6l1.75 3.6h-3.5z"/><path d="M217 697.6l1.75 3.6h-3.5z"/><path d="M219.9 697.6l1.75 3.6h-3.5z"/><path d="M222.8 697.6l1.75 3.6h-3.5z"/><path d="M225.7 697.6l1.75 3.6h-3.5z"/><path d="M228.6 697.6l1.75 3.6h-3.5z"/><path d="M231.5 697.6l1.75 3.6h-3.5z"/><path d="M205.3 695.2l1.75 3.6h-3.5z"/><path d="M208.2 694.6l1.75 3.6h-3.5z"/><path d="M211.1 694.6l1.75 3.6h-3.5z"/><path d="M214 694.8l1.75 3.6h-3.5z"/><path d="M216.9 695.4l1.75 3.6h-3.5z"/><path d="M196.7 697.8l1.75 3.6h-3.5z"/><path d="M201.05 697.8l1.75 3.6h-3.5z"/><path d="M205.4 697.8l1.75 3.6h-3.5z"/><path d="M209.75 697.8l1.75 3.6h-3.5z"/><path d="M214.1 697.8l1.75 3.6h-3.5z"/><path d="M218.45 697.8l1.75 3.6h-3.5z"/><path d="M222.8 697.8l1.75 3.6h-3.5z"/></g>
<path d="M186 698.2H234" stroke="#333" stroke-width="1"/>
</g>
<g>
<text x="266.8" y="507.3" font-size="17.8" font-weight="bold" style="stroke-width:.55px">F</text>
<text x="404.5" y="508.9" font-size="16" font-weight="bold" text-anchor="middle" style="stroke-width:.45px">PB: ITGB7</text>
<path d="M332.1 533H479.2" stroke="#000" stroke-width="1.8" fill="none"/>
<text transform="translate(406.2 528.6) scale(1 .97)" font-size="13.3" text-anchor="middle">p &lt; 0.001</text>
<path d="M332.1 552.5H402" stroke="#000" stroke-width="1.8" fill="none"/>
<text transform="translate(370.8 550.2) scale(1 .97)" font-size="13.3" text-anchor="middle">p &lt; 0.05</text>
<path d="M408.3 552.5H479.2" stroke="#000" stroke-width="1.8" fill="none"/>
<text transform="translate(444.6 550.2) scale(1 .97)" font-size="13.3" text-anchor="middle">p &lt; 0.01</text>
<path d="M300.6 553.9V700.9H520" stroke="#000" stroke-width="2" fill="none" stroke-linejoin="miter"/>
<path d="M297 700.9H300.6" stroke="#000" stroke-width="1.4"/>
<text transform="translate(297.4 703.5) scale(1 .9)" font-size="10" font-weight="bold" text-anchor="end">0</text>
<path d="M297 671.66H300.6" stroke="#000" stroke-width="1.4"/>
<text transform="translate(297.4 674.26) scale(1 .9)" font-size="10" font-weight="bold" text-anchor="end">20</text>
<path d="M297 642.42H300.6" stroke="#000" stroke-width="1.4"/>
<text transform="translate(297.4 645.02) scale(1 .9)" font-size="10" font-weight="bold" text-anchor="end">40</text>
<path d="M297 613.18H300.6" stroke="#000" stroke-width="1.4"/>
<text transform="translate(297.4 615.78) scale(1 .9)" font-size="10" font-weight="bold" text-anchor="end">60</text>
<path d="M297 583.94H300.6" stroke="#000" stroke-width="1.4"/>
<text transform="translate(297.4 586.54) scale(1 .9)" font-size="10" font-weight="bold" text-anchor="end">80</text>
<path d="M297 554.7H300.6" stroke="#000" stroke-width="1.4"/>
<text transform="translate(297.4 557.3) scale(1 .9)" font-size="10" font-weight="bold" text-anchor="end">100</text>
<text transform="translate(275.8 626.2) rotate(-90) scale(1 .92)" font-size="9.9" font-weight="bold" text-anchor="middle">% ITGB7+ve</text>
<path d="M336.5 700.9V704.1" stroke="#000" stroke-width="1.6"/>
<text transform="translate(336.5 712.4) scale(1 .94)" font-size="10.1" font-weight="bold" text-anchor="middle">Healthy</text>
<text transform="translate(336.5 724.1) scale(1 .94)" font-size="10.1" font-weight="bold" text-anchor="middle">n = 12</text>
<g fill="#000"><circle cx="336.5" cy="575.4" r="1.65"/><circle cx="332.25" cy="579.1" r="1.65"/><circle cx="340.9" cy="579.4" r="1.65"/><circle cx="336.5" cy="583.5" r="1.65"/><circle cx="336.5" cy="592.9" r="1.65"/><circle cx="330" cy="599" r="1.65"/><circle cx="334.4" cy="600.6" r="1.65"/><circle cx="338.75" cy="599" r="1.65"/><circle cx="342.9" cy="597.9" r="1.65"/><circle cx="334.4" cy="605.6" r="1.65"/><circle cx="338.75" cy="609" r="1.65"/><circle cx="336.5" cy="632.75" r="1.65"/></g>
<path d="M312.25 598.1H360.6" stroke="#333" stroke-width="1"/>
<path d="M409.3 700.9V704.1" stroke="#000" stroke-width="1.6"/>
<text transform="translate(409.3 712.4) scale(1 .94)" font-size="10.1" font-weight="bold" text-anchor="middle">CLL: Tri 12</text>
<text transform="translate(409.3 724.1) scale(1 .94)" font-size="10.1" font-weight="bold" text-anchor="middle">n = 17</text>
<g fill="#000"><rect x="407.75" y="607.15" width="3.3" height="3.3"/><rect x="405.45" y="624.65" width="3.3" height="3.3"/><rect x="409.85" y="628.25" width="3.3" height="3.3"/><rect x="407.75" y="671.25" width="3.3" height="3.3"/><rect x="405.45" y="676.25" width="3.3" height="3.3"/><rect x="409.75" y="678.85" width="3.3" height="3.3"/><rect x="399.15" y="683.75" width="3.3" height="3.3"/><rect x="403.15" y="686.35" width="3.3" height="3.3"/><rect x="407.75" y="687.75" width="3.3" height="3.3"/><rect x="412.05" y="687.45" width="3.3" height="3.3"/><rect x="416.45" y="685.45" width="3.3" height="3.3"/><rect x="405.45" y="692.65" width="3.3" height="3.3"/><rect x="409.75" y="692.75" width="3.3" height="3.3"/><rect x="414.45" y="694.15" width="3.3" height="3.3"/><rect x="401.15" y="695.45" width="3.3" height="3.3"/><rect x="405.45" y="697.35" width="3.3" height="3.3"/><rect x="409.75" y="696.95" width="3.3" height="3.3"/></g>
<path d="M385.8 687.9H433.6" stroke="#333" stroke-width="1"/>
<path d="M482.3 700.9V704.1" stroke="#000" stroke-width="1.6"/>
<text transform="translate(482.3 712.4) scale(1 .94)" font-size="10.1" font-weight="bold" text-anchor="middle">CLL: Other</text>
<text transform="translate(482.3 724.1) scale(1 .94)" font-size="10.1" font-weight="bold" text-anchor="middle">n = 19</text>
<g fill="#000"><path d="M482.3 689l1.75 3.6h-3.5z"/><path d="M464 697.6l1.75 3.6h-3.5z"/><path d="M466.82 697.6l1.75 3.6h-3.5z"/><path d="M469.63 697.6l1.75 3.6h-3.5z"/><path d="M472.45 697.6l1.75 3.6h-3.5z"/><path d="M475.26 697.6l1.75 3.6h-3.5z"/><path d="M478.08 697.6l1.75 3.6h-3.5z"/><path d="M480.89 697.6l1.75 3.6h-3.5z"/><path d="M483.71 697.6l1.75 3.6h-3.5z"/><path d="M486.52 697.6l1.75 3.6h-3.5z"/><path d="M489.34 697.6l1.75 3.6h-3.5z"/><path d="M492.15 697.6l1.75 3.6h-3.5z"/><path d="M494.97 697.6l1.75 3.6h-3.5z"/><path d="M497.78 697.6l1.75 3.6h-3.5z"/><path d="M500.6 697.6l1.75 3.6h-3.5z"/><path d="M466.8 696.2l1.75 3.6h-3.5z"/><path d="M497.1 695.7l1.75 3.6h-3.5z"/><path d="M471.5 697l1.75 3.6h-3.5z"/><path d="M492.5 696.8l1.75 3.6h-3.5z"/></g>
<path d="M458 699.9H506.5" stroke="#333" stroke-width="1"/>
</g>
</svg>
</body>
</html>
